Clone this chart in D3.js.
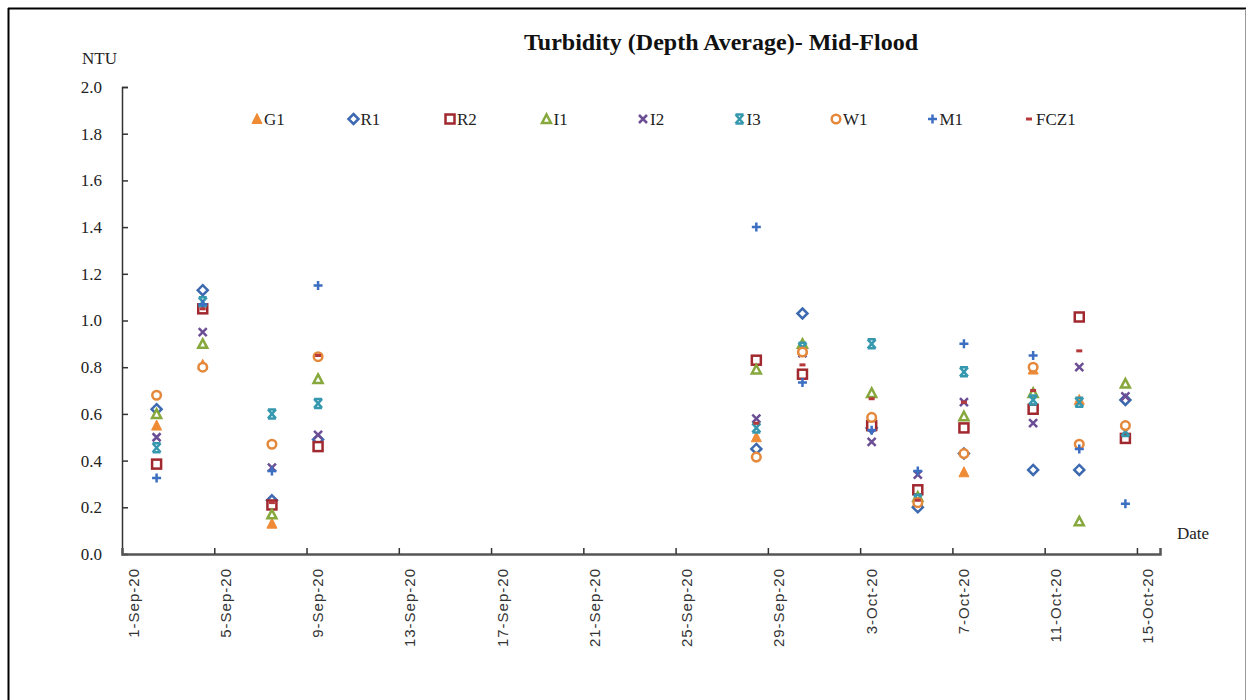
<!DOCTYPE html>
<html>
<head>
<meta charset="utf-8">
<script src="https://cdn.jsdelivr.net/npm/d3@7"></script>
<style>
  html, body { margin: 0; padding: 0; background: #fff; }
  svg { display: block; }
</style>
</head>
<body>
<svg id="chart" width="1251" height="700"></svg>
<script>
// ---- data ----
const dates = ["2020-09-02","2020-09-04","2020-09-07","2020-09-09","2020-09-28","2020-09-30",
               "2020-10-03","2020-10-05","2020-10-07","2020-10-10","2020-10-12","2020-10-14"];
const seriesNames = ["G1","R1","R2","I1","I2","I3","W1","M1","FCZ1"];
const G1   = [0.55, 0.81, 0.13, null, 0.50, 0.875, 0.565, 0.225, 0.35, 0.79, 0.66, null];
const R1   = [0.62, 1.13, 0.23, 0.49, 0.45, 1.03, 0.54, 0.20, 0.43, 0.36, 0.36, 0.66];
const R2   = [0.385, 1.05, 0.21, 0.46, 0.83, 0.77, 0.55, 0.275, 0.54, 0.62, 1.015, 0.495];
const I1   = [0.60, 0.90, 0.17, 0.75, 0.79, 0.90, 0.69, 0.245, 0.59, 0.69, 0.14, 0.73];
const I2   = [0.50, 0.95, 0.37, 0.51, 0.58, 0.86, 0.48, 0.34, 0.65, 0.56, 0.80, 0.675];
const I3   = [0.455, 1.08, 0.60, 0.645, 0.54, 0.885, 0.90, 0.235, 0.78, 0.66, 0.65, 0.525];
const W1   = [0.68, 0.80, 0.47, 0.845, 0.415, 0.865, 0.585, 0.22, 0.43, 0.80, 0.47, 0.55];
const M1   = [0.325, 1.07, 0.355, 1.15, 1.40, 0.735, 0.53, 0.355, 0.90, 0.85, 0.45, 0.215];
const FCZ1 = [null, 1.05, 0.22, 0.85, 0.56, 0.81, 0.665, 0.23, 0.65, 0.70, 0.87, null];
const xTickLabels = ["1-Sep-20","5-Sep-20","9-Sep-20","13-Sep-20","17-Sep-20","21-Sep-20",
                     "25-Sep-20","29-Sep-20","3-Oct-20","7-Oct-20","11-Oct-20","15-Oct-20"];
const yTicks = [0.0,0.2,0.4,0.6,0.8,1.0,1.2,1.4,1.6,1.8,2.0];

const seriesValues = {G1, R1, R2, I1, I2, I3, W1, M1, FCZ1};

// ---- styles ----
const styles = {
  G1:   {shape: "triangleFill", color: "#EF8A35"},
  R1:   {shape: "diamond",      color: "#3D69B0"},
  R2:   {shape: "square",       color: "#A0282E"},
  I1:   {shape: "triangle",     color: "#86A83C"},
  I2:   {shape: "x",            color: "#6B4E94"},
  I3:   {shape: "hourglass",    color: "#3698AE"},
  W1:   {shape: "circle",       color: "#E4883C"},
  M1:   {shape: "plus",         color: "#3C6EC2"},
  FCZ1: {shape: "dash",         color: "#B7383A"}
};

const svg = d3.select("#chart");
const plotL = 122, plotR = 1160, plotT = 87, plotB = 554;

// border
svg.append("line").attr("x1", 8).attr("x2", 1246).attr("y1", 8.5).attr("y2", 8.5)
  .attr("stroke", "#000").attr("stroke-width", 2);
svg.append("line").attr("x1", 8.5).attr("x2", 8.5).attr("y1", 8).attr("y2", 700)
  .attr("stroke", "#000").attr("stroke-width", 2);
svg.append("line").attr("x1", 1245.5).attr("x2", 1245.5).attr("y1", 9).attr("y2", 700)
  .attr("stroke", "#999").attr("stroke-width", 1);

// scales
const parse = d3.timeParse("%Y-%m-%d");
const day0 = parse("2020-09-01");
const dayEnd = parse("2020-10-16");
const xTime = d3.scaleTime().domain([day0, dayEnd]).range([plotL, plotR]);
const xCenter = d => xTime(d3.timeHour.offset(parse(d), 12));
const y = d3.scaleLinear().domain([0, 2]).range([plotB, plotT]);

// y axis
const yAxis = d3.axisLeft(y).tickValues(yTicks).tickFormat(d3.format(".1f")).tickSize(-6).tickPadding(20);
const gy = svg.append("g").attr("transform", `translate(${plotL},0)`).call(yAxis);
gy.select(".domain").attr("stroke", "#333").attr("stroke-width", 1.5);
gy.selectAll(".tick line").attr("stroke", "#333").attr("stroke-width", 1.5);
gy.selectAll(".tick text").attr("font-family", "'Liberation Serif', 'Times New Roman', serif")
  .attr("font-size", 17).attr("fill", "#222");

// x axis : ticks at category boundaries every 4 days, labels centered on days
const tickDays = d3.range(0, 45, 4).map(i => d3.timeDay.offset(day0, i));
const xAxis = d3.axisBottom(xTime).tickValues(tickDays.concat([dayEnd])).tickSize(-6).tickFormat("");
const gx = svg.append("g").attr("transform", `translate(0,${plotB})`).call(xAxis);
gx.select(".domain").attr("stroke", "#555").attr("stroke-width", 2.5);
gx.selectAll(".tick line").attr("stroke", "#333").attr("stroke-width", 1.5);
gx.selectAll(".tick").filter((d, i) => i === 0 || i === tickDays.length).select("line").remove();

const labelDates = d3.range(0, 45, 4).map(i => d3.timeDay.offset(day0, i));
svg.append("g").selectAll("text").data(labelDates).join("text")
  .attr("transform", (d, i) => `translate(${xTime(d3.timeHour.offset(d, 12)) + 5},${plotB + 14}) rotate(-90)`)
  .attr("text-anchor", "end")
  .attr("font-family", "'Liberation Sans', Arial, sans-serif")
  .attr("font-size", 15)
  .attr("letter-spacing", 1)
  .attr("fill", "#333")
  .text((d, i) => xTickLabels[i]);

// titles
svg.append("text").attr("x", 721).attr("y", 50).attr("text-anchor", "middle")
  .attr("font-family", "'Liberation Serif', 'Times New Roman', serif").attr("font-weight", "bold")
  .attr("font-size", 24).attr("fill", "#111").text("Turbidity (Depth Average)- Mid-Flood");
svg.append("text").attr("x", 82).attr("y", 64)
  .attr("font-family", "'Liberation Serif', 'Times New Roman', serif")
  .attr("font-size", 17).attr("fill", "#222").text("NTU");
svg.append("text").attr("x", 1177).attr("y", 539)
  .attr("font-family", "'Liberation Serif', 'Times New Roman', serif")
  .attr("font-size", 17).attr("fill", "#222").text("Date");

// marker drawing
function drawMarker(g, shape, color, cx, cy) {
  const s = 5;
  const sw = 2.5;
  switch (shape) {
    case "triangleFill":
      g.append("path").attr("d", `M${cx},${cy - s - 0.5}L${cx + s},${cy + s - 0.5}L${cx - s},${cy + s - 0.5}Z`)
        .attr("fill", color).attr("stroke", color).attr("stroke-width", 1);
      break;
    case "triangle":
      g.append("path").attr("d", `M${cx},${cy - s + 0.5}L${cx + s - 0.5},${cy + s - 1}L${cx - s + 0.5},${cy + s - 1}Z`)
        .attr("fill", "#fff").attr("stroke", color).attr("stroke-width", sw);
      break;
    case "diamond":
      g.append("path").attr("d", `M${cx},${cy - s}L${cx + s},${cy}L${cx},${cy + s}L${cx - s},${cy}Z`)
        .attr("fill", "#fff").attr("stroke", color).attr("stroke-width", sw);
      break;
    case "square":
      g.append("rect").attr("x", cx - s + 0.5).attr("y", cy - s + 0.5).attr("width", 2 * s - 1).attr("height", 2 * s - 1)
        .attr("fill", "#fff").attr("stroke", color).attr("stroke-width", sw);
      break;
    case "circle":
      g.append("circle").attr("cx", cx).attr("cy", cy).attr("r", s - 0.7)
        .attr("fill", "#fff").attr("stroke", color).attr("stroke-width", sw);
      break;
    case "x":
      g.append("path").attr("d", `M${cx - 4},${cy - 4}L${cx + 4},${cy + 4}M${cx + 4},${cy - 4}L${cx - 4},${cy + 4}`)
        .attr("stroke", color).attr("stroke-width", sw).attr("fill", "none");
      break;
    case "hourglass":
      g.append("path").attr("d", `M${cx - 4},${cy - 4.5}L${cx + 4},${cy + 4.5}M${cx + 4},${cy - 4.5}L${cx - 4},${cy + 4.5}M${cx - 4},${cy - 4.5}L${cx + 4},${cy - 4.5}M${cx - 4},${cy + 4.5}L${cx + 4},${cy + 4.5}`)
        .attr("stroke", color).attr("stroke-width", sw).attr("fill", "none");
      break;
    case "plus":
      g.append("path").attr("d", `M${cx - 4.5},${cy}L${cx + 4.5},${cy}M${cx},${cy - 4.5}L${cx},${cy + 4.5}`)
        .attr("stroke", color).attr("stroke-width", sw).attr("fill", "none");
      break;
    case "dash":
      g.append("path").attr("d", `M${cx - 3},${cy}L${cx + 3},${cy}`)
        .attr("stroke", color).attr("stroke-width", 3).attr("fill", "none");
      break;
  }
}

// points
const gp = svg.append("g");
seriesNames.forEach(name => {
  const vals = seriesValues[name];
  const st = styles[name];
  const gs = gp.append("g").attr("class", "series-" + name);
  dates.forEach((d, i) => {
    const v = vals[i];
    if (v == null) return;
    drawMarker(gs, st.shape, st.color, xCenter(d), y(v));
  });
});

// legend
const legendX = d3.scalePoint().domain(seriesNames).range([257, 1029]);
const lg = svg.append("g");
seriesNames.forEach(name => {
  const cx = legendX(name);
  drawMarker(lg, styles[name].shape, styles[name].color, cx, 119);
  lg.append("text").attr("x", cx + 7).attr("y", 125)
    .attr("font-family", "'Liberation Serif', 'Times New Roman', serif")
    .attr("font-size", 17).attr("fill", "#222").text(name);
});
</script>
</body>
</html>
